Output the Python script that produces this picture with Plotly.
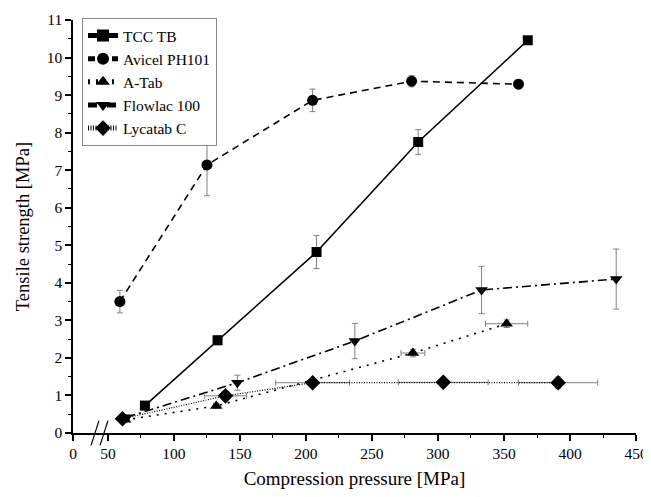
import plotly.graph_objects as go

# ---- data ----
tcc_x = [78, 133, 208, 285, 368]
tcc_y = [0.73, 2.47, 4.82, 7.75, 10.46]
tcc_ey = [0.05, 0.12, 0.44, 0.33, 0.1]

avi_x = [59, 125, 205, 280, 361]
avi_y = [3.5, 7.14, 8.86, 9.37, 9.29]
avi_ey = [0.3, 0.82, 0.3, 0.15, 0.12]

atab_x = [63, 132, 281, 352]
atab_y = [0.35, 0.72, 2.13, 2.91]
atab_ey = [0.05, 0.06, 0.1, 0.1]
atab_ex = [1, 2, 9, 16]

flo_x = [64, 148, 237, 333, 435]
flo_y = [0.42, 1.34, 2.45, 3.81, 4.10]
flo_ey = [0.05, 0.2, 0.47, 0.63, 0.8]

lyc_x = [61, 139, 205, 304, 391]
lyc_y = [0.38, 0.99, 1.34, 1.35, 1.34]
lyc_ey = [0.05, 0.05, 0.08, 0.12, 0.15]
lyc_ex = [2, 16, 28, 34, 30]

x_ticks = [0, 50, 100, 150, 200, 250, 300, 350, 400, 450]
y_ticks = list(range(0, 12))

# broken axis: 0..50 compressed into a short segment
X_ZERO_POS = 23.5
def xpos(v):
    return v if v >= 50 else X_ZERO_POS + (v / 50) * (50 - X_ZERO_POS)

FONT = "Liberation Serif, Times New Roman, serif"
ERR = dict(color="#808080", thickness=1, width=3)

fig = go.Figure()

def add(name, xs, ys, ey, symbol, dash, size, ex=None, lw=1.6):
    kw = {}
    if ex is not None:
        kw["error_x"] = dict(type="data", array=ex, visible=True, **ERR)
    fig.add_trace(go.Scatter(
        x=[xpos(v) for v in xs], y=ys, name=name, mode="lines+markers",
        line=dict(color="black", width=lw, dash=dash),
        marker=dict(symbol=symbol, size=size, color="black"),
        error_y=dict(type="data", array=ey, visible=True, **ERR),
        **kw))

add("TCC TB", tcc_x, tcc_y, tcc_ey, "square", "solid", 10)
add("Avicel PH101", avi_x, avi_y, avi_ey, "circle", "7px 5px", 11)
add("A-Tab", atab_x, atab_y, atab_ey, "triangle-up", "2px 6px", 11, ex=atab_ex)
add("Flowlac 100", flo_x, flo_y, flo_ey, "triangle-down", "9px 4px 2px 4px", 11)
add("Lycatab C", lyc_x, lyc_y, lyc_ey, "diamond", "1px 1.5px", 12, ex=lyc_ex, lw=1.2)

# axis break marks
for xc in [95, 104]:
    fig.add_shape(type="line", xref="x", yref="paper",
                  x0=X_ZERO_POS + (xc - 73) / 1.32 - 3, x1=X_ZERO_POS + (xc - 73) / 1.32 + 3,
                  y0=-0.03, y1=0.03, line=dict(color="black", width=1.2))

fig.update_layout(
    width=643, height=489,
    margin=dict(l=65, r=15, t=12, b=64, autoexpand=False),
    paper_bgcolor="white", plot_bgcolor="white",
    font=dict(family=FONT, size=15, color="black"),
    legend=dict(x=0.016, y=1.005, xanchor="left", yanchor="top",
                bordercolor="#888", borderwidth=1, bgcolor="white",
                font=dict(family=FONT, size=15.5), tracegroupgap=0,
                itemsizing="constant"),
    showlegend=True,
)
fig.update_xaxes(
    range=[X_ZERO_POS, 450], automargin=False,
    tickvals=[xpos(v) for v in x_ticks], ticktext=[str(v) for v in x_ticks],
    showline=True, linecolor="black", linewidth=1.5,
    ticks="outside", ticklen=6, tickwidth=1.5, tickcolor="black",
    minor=dict(tickvals=[75, 125, 175, 225, 275, 325, 375, 425], ticks="outside", ticklen=3, tickcolor="black", tickwidth=1.2),
    showgrid=False, zeroline=False,
    title=dict(text="Compression pressure [MPa]", font=dict(family=FONT, size=19), standoff=10),
    tickfont=dict(family=FONT, size=15.5),
)
fig.update_yaxes(
    range=[0, 11], automargin=False,
    tickvals=y_ticks,
    showline=True, linecolor="black", linewidth=1.5,
    ticks="outside", ticklen=6, tickwidth=1.5, tickcolor="black",
    minor=dict(dtick=0.5, ticks="outside", ticklen=3, tickcolor="black", tickwidth=1.2),
    showgrid=False, zeroline=False,
    title=dict(text="Tensile strength [MPa]", font=dict(family=FONT, size=18.5), standoff=12),
    tickfont=dict(family=FONT, size=15.5),
)

fig.write_html("out.html")
